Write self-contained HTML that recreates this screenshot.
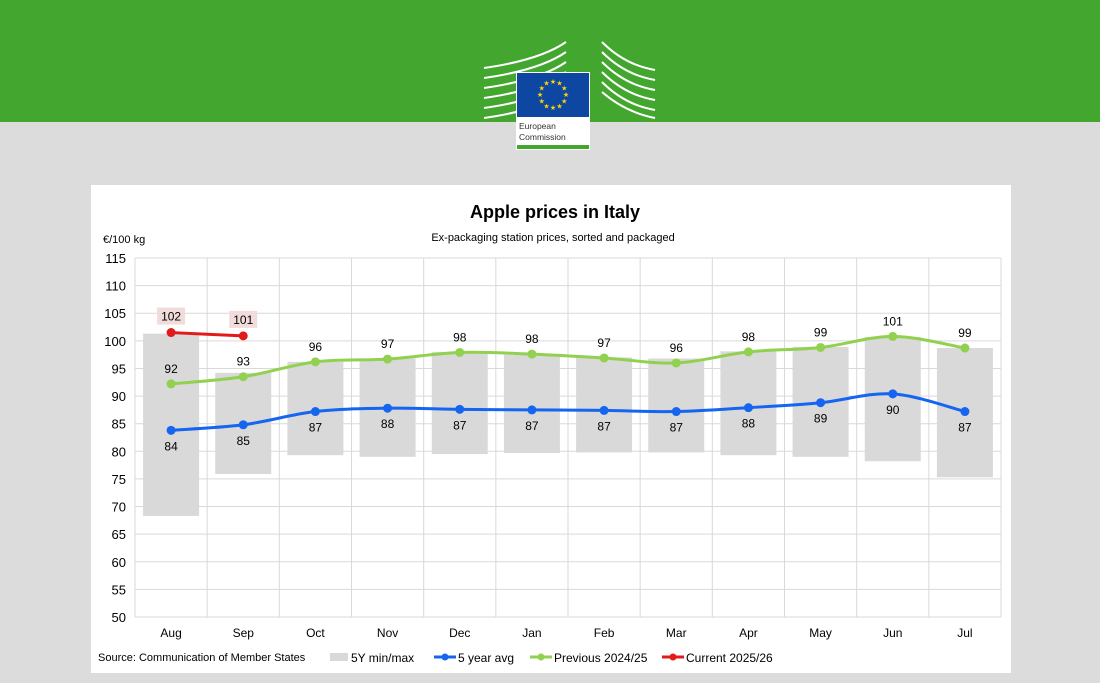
<!DOCTYPE html>
<html><head><meta charset="utf-8"><style>
body{margin:0;width:1100px;height:683px;background:#dcdcdc;font-family:"Liberation Sans",sans-serif;overflow:hidden;position:relative}
#hdr{position:absolute;left:0;top:0;width:1100px;height:122px;background:#43a72f}
#panel{position:absolute;left:91px;top:185px;width:920px;height:488px;background:#fff}
svg{position:absolute;left:0;top:0}
</style></head><body>
<div id="hdr"></div>
<div id="panel"></div>
<svg width="1100" height="683" id="s" font-family="Liberation Sans, sans-serif">
<g fill="none" stroke="#fff" stroke-width="2">
<path d="M484 68 Q540 60 566 42 M484 78 Q540 70 566 52 M484 88 Q540 80 566 62 M484 98 Q540 90 566 72 M484 108 Q540 100 566 82 M484 118 Q540 110 566 92"/>
<path d="M602 42 Q625 65 655 70 M602 52 Q625 75 655 80 M602 62 Q625 85 655 90 M602 72 Q625 95 655 100 M602 82 Q625 105 655 110 M602 92 Q625 112 655 118"/>
</g>
<rect x="516" y="72" width="74" height="78" fill="#fff"/>
<rect x="517" y="73" width="72" height="44" fill="#0e47a1"/>
<rect x="517" y="145" width="72" height="4" fill="#43a72f"/>
<g fill="#ffd500" font-size="7" text-anchor="middle" id="stars"></g>
<text x="519" y="129" font-size="8.5" fill="#333">European</text>
<text x="519" y="140" font-size="8.5" fill="#333">Commission</text>
<g id="g"></g>
</svg>
<script>
const S='http://www.w3.org/2000/svg',g=document.getElementById('g');
function el(t,a,txt){const e=document.createElementNS(S,t);for(const k in a)e.setAttribute(k,a[k]);if(txt!==undefined)e.textContent=txt;g.appendChild(e);return e;}
const st=document.getElementById('stars');
for(let i=0;i<12;i++){const a=i*Math.PI/6;const e=document.createElementNS(S,'text');e.setAttribute('x',553+13*Math.sin(a));e.setAttribute('y',97-13*Math.cos(a));e.textContent='★';st.appendChild(e);}
const L=135,R=1001,T=258,B=617,cw=(R-L)/12;
const Y=v=>B-(v-50)*(B-T)/65, X=i=>L+cw*(i+.5);
// grid
for(let v=50;v<=115;v+=5){el('line',{x1:L,x2:R,y1:Y(v),y2:Y(v),stroke:'#d9d9d9'});el('text',{x:126,y:Y(v)+5,'font-size':13,'text-anchor':'end',fill:'#000'},v);}
for(let i=0;i<=12;i++)el('line',{x1:L+cw*i,x2:L+cw*i,y1:T,y2:B,stroke:'#d9d9d9'});
const M=['Aug','Sep','Oct','Nov','Dec','Jan','Feb','Mar','Apr','May','Jun','Jul'];
M.forEach((m,i)=>el('text',{x:X(i),y:637,'font-size':12,'text-anchor':'middle'},m));
const mx=[101.3,94.2,96.2,96.8,98,97.5,97,96.8,98.1,98.9,100.7,98.7],mn=[68.3,75.9,79.3,79,79.5,79.7,79.8,79.8,79.3,79,78.2,75.3];
mx.forEach((v,i)=>el('rect',{x:X(i)-28,y:Y(v),width:56,height:Y(mn[i])-Y(v),fill:'#d9d9d9'}));
function path(vals,col){const p=vals.map((v,i)=>[X(i),Y(v)]);let d='M'+p[0];for(let i=0;i<p.length-1;i++){const a=p[i-1]||p[i],b=p[i],c=p[i+1],e=p[i+2]||c;d+=` C${b[0]+(c[0]-a[0])/6},${b[1]+(c[1]-a[1])/6} ${c[0]-(e[0]-b[0])/6},${c[1]-(e[1]-b[1])/6} ${c[0]},${c[1]}`;}
el('path',{d,fill:'none',stroke:col,'stroke-width':3});p.forEach(q=>el('circle',{cx:q[0],cy:q[1],r:4.5,fill:col}));}
const bl=[83.8,84.8,87.2,87.8,87.6,87.5,87.4,87.2,87.9,88.8,90.4,87.2],gr=[92.2,93.5,96.2,96.7,97.9,97.6,96.9,96.0,98.0,98.8,100.8,98.7],rd=[101.5,100.9];
path(bl,'#1565f0');path(gr,'#92d050');
const bll=[84,85,87,88,87,87,87,87,88,89,90,87],grl=[92,93,96,97,98,98,97,96,98,99,101,99];
bl.forEach((v,i)=>el('text',{x:X(i),y:Y(v)+20,'font-size':12,'text-anchor':'middle'},bll[i]));
gr.forEach((v,i)=>el('text',{x:X(i),y:Y(v)-11,'font-size':12,'text-anchor':'middle'},grl[i]));
[102,101].forEach((t,i)=>{el('rect',{x:X(i)-14,y:Y(rd[i])-25,width:28,height:17,fill:'#f2dcdb'});el('text',{x:X(i),y:Y(rd[i])-12,'font-size':12,'text-anchor':'middle'},t);});
path(rd,'#e31a1c');
el('text',{x:555,y:218,'font-size':18,'font-weight':'bold','text-anchor':'middle'},'Apple prices in Italy');
el('text',{x:553,y:241,'font-size':11,'text-anchor':'middle'},'Ex-packaging station prices, sorted and packaged');
el('text',{x:103,y:243,'font-size':11},'€/100 kg');
el('text',{x:98,y:661,'font-size':11},'Source: Communication  of Member States');
el('rect',{x:330,y:653,width:18,height:8,fill:'#d9d9d9'});el('text',{x:351,y:662,'font-size':12},'5Y min/max');
[['#1565f0','5 year avg',434],['#92d050','Previous 2024/25',530],['#e31a1c','Current 2025/26',662]].forEach(([c,t,x])=>{el('line',{x1:x,x2:x+22,y1:657,y2:657,stroke:c,'stroke-width':3});el('circle',{cx:x+11,cy:657,r:3.5,fill:c});el('text',{x:x+24,y:662,'font-size':12},t);});
</script>
</body></html>
